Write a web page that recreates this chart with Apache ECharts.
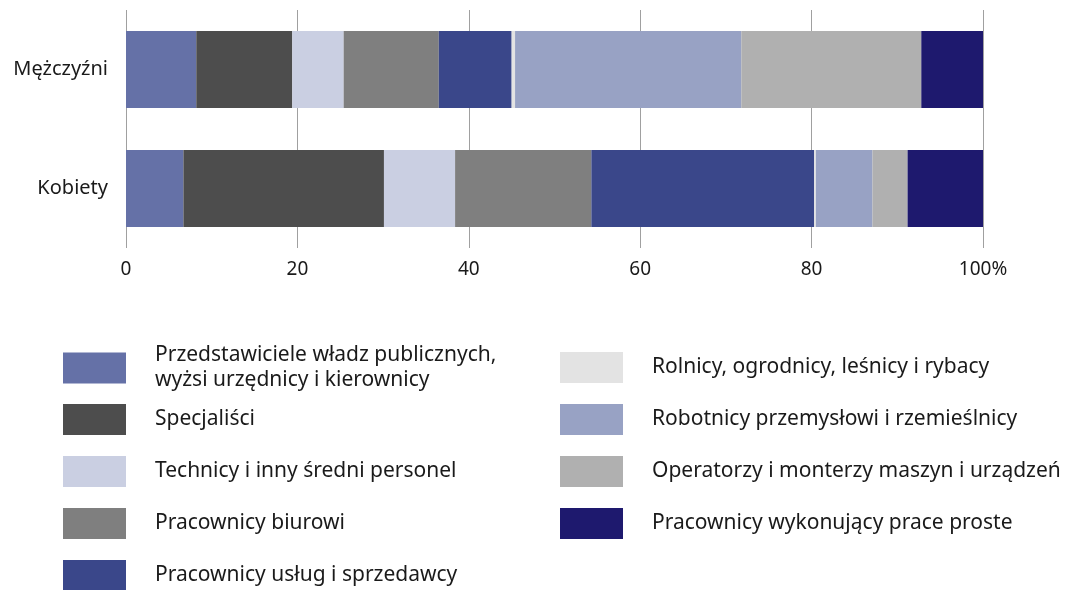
<!DOCTYPE html>
<html>
<head>
<meta charset="utf-8">
<script src="https://cdn.jsdelivr.net/npm/echarts@6/dist/echarts.min.js"></script>
<style>
html, body { margin: 0; padding: 0; background: #fff; }
#main { width: 1067px; height: 590px; }
</style>
</head>
<body>
<div id="main"></div>
<script>
var categories = ['Mężczyźni', 'Kobiety'];
var xTicks = [0, 20, 40, 60, 80, 100];

var groups = [
    'Przedstawiciele władz publicznych,\nwyżsi urzędnicy i kierownicy',
    'Specjaliści',
    'Technicy i inny średni personel',
    'Pracownicy biurowi',
    'Pracownicy usług i sprzedawcy',
    'Rolnicy, ogrodnicy, leśnicy i rybacy',
    'Robotnicy przemysłowi i rzemieślnicy',
    'Operatorzy i monterzy maszyn i urządzeń',
    'Pracownicy wykonujący prace proste'
];
// udział w % : [mężczyźni, kobiety]
var przedstawiciele = [8.2, 6.7];
var specjalisci = [11.2, 23.4];
var technicy = [6.0, 8.3];
var biurowi = [11.1, 15.9];
var uslugi = [8.5, 26.0];
var rolnicy = [0.4, 0.2];
var robotnicy = [26.4, 6.6];
var operatorzy = [21.0, 4.1];
var proste = [7.2, 8.8];

var values = [przedstawiciele, specjalisci, technicy, biurowi, uslugi, rolnicy, robotnicy, operatorzy, proste];
var colors = ['#6571a7', '#4d4d4d', '#cacfe2', '#7f7f7f', '#3a478a', '#e3e3e3', '#98a2c4', '#b0b0b0', '#1e196e'];

var chart = echarts.init(document.getElementById('main'));

var series = [];
for (var i = 0; i < groups.length; i++) {
    series.push({
        name: groups[i],
        type: 'bar',
        stack: 'total',
        barWidth: 77,
        itemStyle: { color: colors[i] },
        data: values[i]
    });
}

var legendText = {
    fontFamily: 'Noto Sans',
    fontSize: 21,
    color: '#1a1a1a',
    lineHeight: 25,
    padding: [6, 0, 0, 24]
};

function makeLegend(left, top, items) {
    return {
        orient: 'vertical',
        left: left,
        top: top,
        height: 260,
        padding: 0,
        itemWidth: 63,
        itemHeight: 31,
        itemGap: 21,
        icon: 'rect',
        textStyle: legendText,
        data: items
    };
}

option = {
    animation: false,
    color: colors,
    textStyle: { fontFamily: 'Noto Sans' },
    grid: {
        left: 126,
        right: 84,
        top: 10,
        bottom: 342
    },
    legend: [
        makeLegend(63, 340, groups.slice(0, 1)),
        makeLegend(63, 404, groups.slice(1, 5)),
        makeLegend(560, 352, groups.slice(5))
    ],
    xAxis: {
        type: 'value',
        min: 0,
        max: 100,
        interval: 20,
        axisLine: { show: false },
        axisTick: { show: false },
        splitLine: { lineStyle: { color: '#a0a0a0', width: 1 } },
        axisLabel: {
            margin: 12,
            fontSize: 19,
            color: '#1a1a1a',
            formatter: function (v) {
                return xTicks.indexOf(v) < 0 ? '' : (v === 100 ? '100%' : String(v));
            }
        }
    },
    yAxis: {
        type: 'category',
        inverse: true,
        data: categories,
        axisLine: { show: false },
        axisTick: { show: false },
        axisLabel: {
            margin: 18,
            fontSize: 20,
            color: '#1a1a1a'
        }
    },
    series: series
};

chart.setOption(option);
window.addEventListener('resize', function () {
    chart.resize();
});
</script>
</body>
</html>
